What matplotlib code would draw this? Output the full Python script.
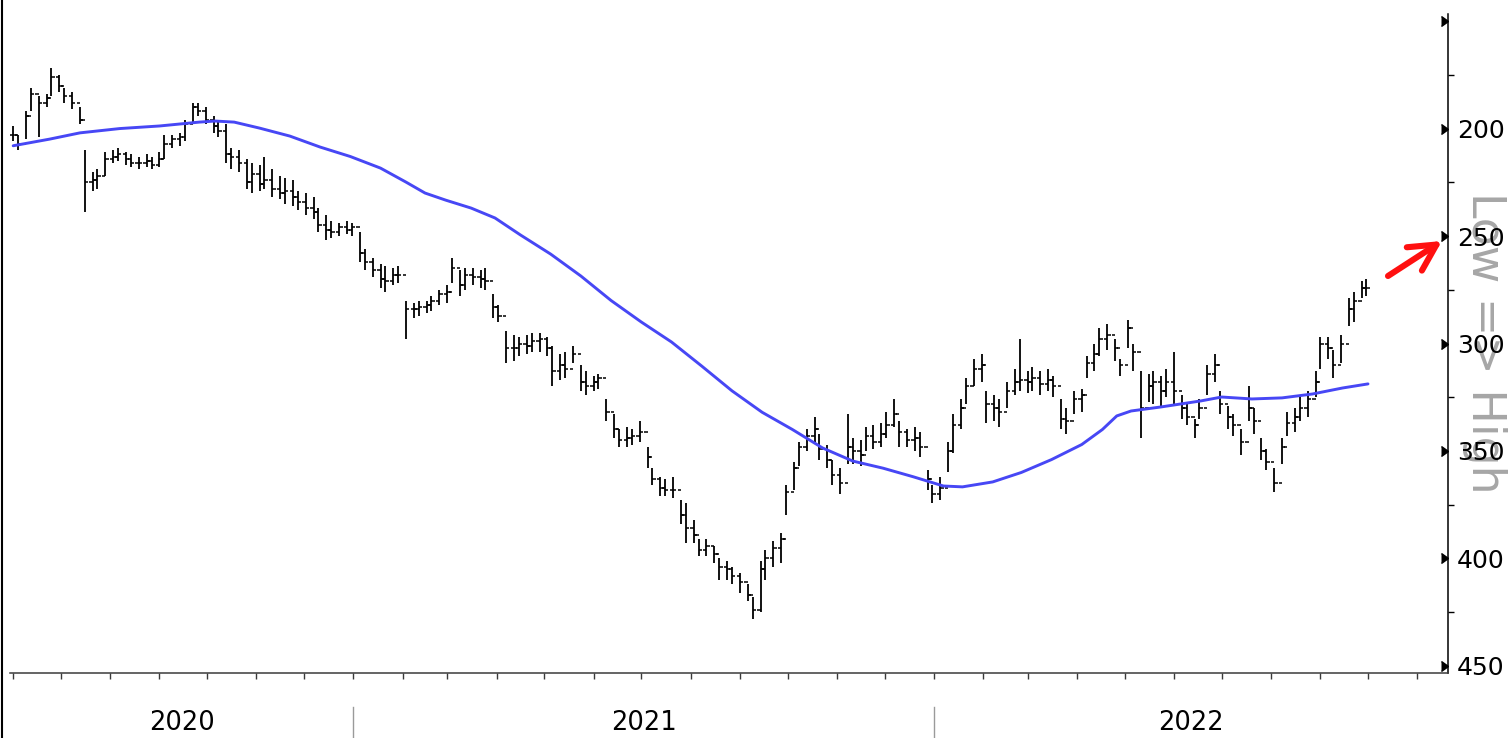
import numpy as np
import pandas as pd
import matplotlib
matplotlib.use("Agg")
import matplotlib.pyplot as plt
import matplotlib.dates as mdates
from matplotlib.lines import Line2D
from matplotlib.transforms import blended_transform_factory

# ---------------- data ----------------
bar_low = [199, 203, 192, 181, 185, 184, 172, 175, 181, 183,
           190, 210, 220, 219, 211, 210, 209, 211, 212, 213,
           212, 213, 211, 203, 203, 202, 196, 188, 188, 190,
           194, 196, 198, 209, 210, 214, 216, 217, 213, 219,
           222, 223, 224, 229, 230, 232, 237, 240, 243, 244,
           243, 244, 248, 256, 260, 263, 264, 265, 264, 280,
           281, 280, 280, 278, 275, 273, 260, 266, 265, 265,
           266, 265, 277, 282, 294, 296, 297, 296, 295, 295,
           297, 301, 305, 304, 301, 310, 313, 315, 314, 326,
           333, 340, 339, 340, 336, 348, 358, 362, 363, 362,
           373, 374, 382, 391, 391, 394, 400, 401, 404, 407,
           412, 418, 401, 396, 392, 388, 366, 355, 346, 340,
           334, 342, 347, 354, 358, 333, 344, 345, 339, 338,
           337, 332, 326, 336, 340, 339, 341, 359, 366, 362,
           346, 333, 326, 316, 307, 305, 322, 324, 326, 318,
           312, 298, 313, 311, 313, 312, 315, 326, 330, 322,
           321, 306, 300, 293, 291, 298, 307, 289, 300, 313,
           314, 313, 315, 312, 304, 324, 328, 335, 326, 310,
           305, 322, 329, 333, 340, 320, 330, 344, 349, 358,
           344, 332, 330, 325, 322, 313, 297, 297, 303, 296,
           279, 276, 271, 270]
bar_high = [206, 210, 205, 192, 204, 190, 185, 183, 188, 191,
            198, 239, 229, 228, 222, 216, 215, 217, 218, 219,
            218, 219, 218, 214, 209, 208, 206, 197, 194, 198,
            202, 204, 216, 219, 220, 228, 230, 229, 228, 232,
            233, 235, 236, 238, 240, 242, 248, 252, 251, 250,
            249, 250, 262, 266, 269, 274, 276, 273, 272, 298,
            288, 287, 286, 285, 282, 281, 272, 278, 275, 273,
            274, 275, 288, 290, 309, 308, 306, 305, 304, 304,
            306, 320, 317, 316, 309, 322, 324, 322, 321, 336,
            344, 348, 348, 347, 346, 358, 366, 371, 371, 372,
            384, 393, 393, 399, 399, 402, 410, 410, 412, 416,
            420, 428, 425, 410, 404, 402, 380, 368, 357, 350,
            346, 354, 358, 366, 370, 356, 356, 357, 350, 349,
            348, 344, 339, 348, 348, 350, 353, 368, 374, 373,
            360, 351, 340, 328, 320, 318, 337, 336, 339, 330,
            324, 322, 323, 322, 324, 322, 325, 340, 342, 333,
            332, 316, 313, 306, 303, 308, 315, 302, 313, 344,
            327, 328, 330, 325, 328, 335, 338, 344, 335, 324,
            318, 333, 340, 343, 352, 336, 342, 354, 359, 369,
            356, 343, 341, 336, 334, 325, 312, 307, 316, 309,
            292, 290, 279, 278]
bar_close = [203, 207, 194, 184, 188, 186, 176, 180, 185, 188,
             196, 225, 224, 222, 214, 213, 212, 214, 216, 216,
             215, 217, 214, 207, 205, 204, 198, 190, 192, 196,
             199, 201, 212, 213, 216, 225, 221, 226, 224, 228,
             230, 229, 232, 234, 237, 239, 245, 247, 248, 246,
             247, 246, 258, 262, 266, 270, 271, 268, 268, 284,
             284, 283, 282, 280, 277, 276, 265, 273, 268, 269,
             270, 271, 283, 287, 302, 302, 300, 301, 299, 298,
             302, 313, 310, 312, 305, 318, 320, 318, 316, 332,
             340, 345, 344, 343, 341, 353, 363, 367, 368, 368,
             380, 386, 389, 396, 394, 398, 404, 405, 408, 411,
             417, 424, 405, 400, 395, 391, 369, 358, 348, 343,
             340, 349, 354, 361, 365, 348, 350, 352, 343, 346,
             342, 338, 333, 341, 345, 344, 348, 363, 370, 367,
             350, 338, 330, 320, 312, 310, 328, 330, 332, 322,
             318, 317, 318, 316, 319, 317, 320, 335, 336, 326,
             324, 309, 305, 298, 296, 302, 310, 293, 304, 330,
             320, 318, 322, 318, 322, 330, 334, 338, 330, 314,
             310, 328, 334, 338, 346, 330, 336, 350, 355, 365,
             348, 337, 334, 330, 326, 318, 300, 302, 310, 300,
             284, 280, 274, 274]
bar_dates = pd.bdate_range("2020-06-01", periods=len(bar_close), freq="3B")

ma_dates = pd.to_datetime([
    "2020-06-01", "2020-06-24", "2020-07-13", "2020-08-07", "2020-09-01",
    "2020-09-26", "2020-10-06", "2020-10-18", "2020-11-03", "2020-11-22",
    "2020-12-11", "2020-12-30", "2021-01-18", "2021-02-03", "2021-02-15",
    "2021-02-28", "2021-03-16", "2021-03-31", "2021-04-16", "2021-05-05",
    "2021-05-24", "2021-06-12", "2021-07-01", "2021-07-20", "2021-08-08",
    "2021-08-27", "2021-09-15", "2021-10-04", "2021-10-23", "2021-11-11",
    "2021-11-30", "2021-12-19", "2022-01-07", "2022-01-19", "2022-02-07",
    "2022-02-25", "2022-03-16", "2022-04-04", "2022-04-17", "2022-04-26",
    "2022-05-05", "2022-05-24", "2022-06-18", "2022-07-01", "2022-07-20",
    "2022-08-08", "2022-08-27", "2022-09-15", "2022-10-01"])
ma_values = [208.0, 204.9, 202.0, 200.0, 198.8,
             197.0, 196.5, 197.0, 199.8, 203.5,
             208.6, 213.0, 218.4, 224.9, 230.0,
             233.3, 237.0, 241.6, 249.5, 258.4,
             268.6, 280.0, 290.0, 299.3, 310.5,
             322.0, 332.0, 340.0, 348.6, 354.7,
             358.0, 362.0, 366.3, 366.7, 364.4,
             360.0, 354.0, 347.0, 340.0, 333.7,
             331.4, 329.5, 326.7, 324.9, 325.8,
             325.3, 323.5, 320.7, 318.8]

y_major = [150, 200, 250, 300, 350, 400, 450]
y_major_labels = ["", "200", "250", "300", "350", "400", "450"]
y_minor = [175, 225, 275, 325, 375, 425]
years = [2020, 2021, 2022]
side_label = "Low => High"

# ---------------- figure ----------------
W, H = 1511, 738
fig = plt.figure(figsize=(W / 100, H / 100), dpi=100)
fig.patch.set_facecolor("white")
ax = fig.add_axes([10 / W, (H - 673) / H, 1437.5 / W, 659 / H])
ax.patch.set_visible(False)

x = mdates.date2num(bar_dates)
opens = [bar_close[0]] + bar_close[:-1]
tk = 2.1
ax.vlines(x, bar_low, bar_high, color="black", lw=1.3, zorder=2)
ax.hlines(opens, x - tk, x, color="black", lw=1.1, zorder=2)
ax.hlines(bar_close, x, x + tk, color="black", lw=1.1, zorder=2)

ax.plot(ma_dates, ma_values, color="#4747f5", lw=2.1, zorder=3,
        solid_joinstyle="round", solid_capstyle="round")

x0 = pd.Timestamp("2020-05-30")
x1 = pd.Timestamp("2022-11-20")
ax.set_xlim(x0, x1)
ax.set_ylim(453.3, 146.7)

# spines
for s in ("left", "top"):
    ax.spines[s].set_visible(False)
ax.spines["right"].set_color("black")
ax.spines["right"].set_linewidth(1.1)
ax.spines["bottom"].set_color("#3a3a3a")
ax.spines["bottom"].set_linewidth(1.1)

# y axis on right
ax.yaxis.tick_right()
ax.set_yticks(y_major)
ax.set_yticklabels(y_major_labels)
ax.set_yticks(y_minor, minor=True)
ax.tick_params(axis="y", which="major", length=0, pad=7, labelsize=18,
               labelcolor="black")
ax.tick_params(axis="y", which="minor", length=4, width=1.0, color="black",
               direction="out")
trans_y = blended_transform_factory(ax.transAxes, ax.transData)
ax.plot([1.0] * len(y_major), y_major, linestyle="none", marker=5,
        markersize=7, color="black", transform=trans_y, clip_on=False,
        zorder=5)

# x axis: monthly ticks, no labels
ax.xaxis.set_major_locator(mdates.MonthLocator())
ax.tick_params(axis="x", which="major", length=4, width=1.0,
               color="#3a3a3a", labelbottom=False)

# year labels and separators
trans_x = blended_transform_factory(ax.transData, ax.transAxes)
lo_n, hi_n = mdates.date2num(x0), mdates.date2num(x1)
for yr in years:
    a = max(mdates.date2num(pd.Timestamp(f"{yr}-01-01")), lo_n)
    b = min(mdates.date2num(pd.Timestamp(f"{yr + 1}-01-01")), hi_n)
    ax.text((a + b) / 2, -(723 - 673) / 659, str(yr), transform=trans_x,
            ha="center", va="center", fontsize=18.5, color="black")
for yr in years[1:]:
    xs = mdates.date2num(pd.Timestamp(f"{yr}-01-01"))
    ax.add_line(Line2D([xs, xs], [-(707 - 673) / 659, -(740 - 673) / 659],
                       transform=trans_x, color="#9a9a9a", lw=1.0,
                       clip_on=False))

# side label
fig.text(1484 / W, 1 - 343 / H, side_label, rotation=270, fontsize=33,
         color="#a6a6a6", ha="center", va="center", zorder=-1)

# red arrow
ax.annotate("", xy=(1442, H - 241), xytext=(1388, H - 276),
            xycoords="figure pixels", textcoords="figure pixels",
            annotation_clip=False,
            arrowprops=dict(arrowstyle="->,head_length=0.95,head_width=0.5",
                            color="#ff1010", lw=4.4, shrinkA=0, shrinkB=0,
                            mutation_scale=20))

# left border line
fig.add_artist(Line2D([1.5 / W, 1.5 / W], [0, 1], color="black", lw=1.5,
                      transform=fig.transFigure))

fig.savefig("out.png", dpi=100, facecolor="white")
